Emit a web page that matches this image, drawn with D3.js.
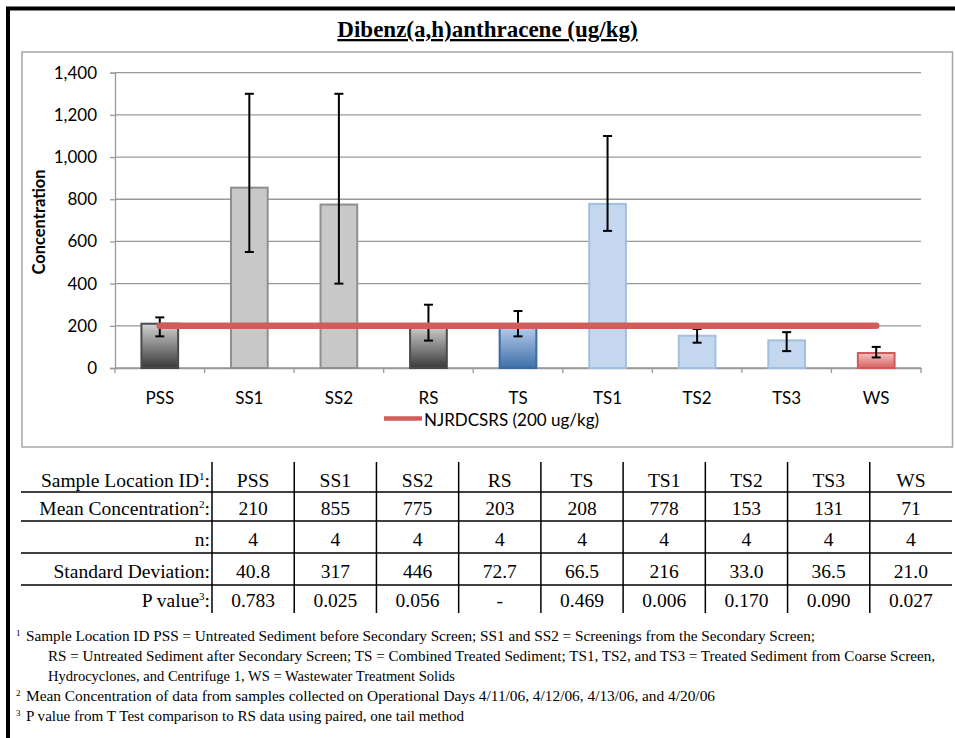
<!DOCTYPE html>
<meta charset="utf-8">
<script src="https://d3js.org/d3.v7.min.js"></script>
<style>
  body { margin: 0; background: #fff; }
  svg { display: block; }
</style>
<body>
<div id="my_dataviz"></div>
<script>
// data
var categories = ["PSS", "SS1", "SS2", "RS", "TS", "TS1", "TS2", "TS3", "WS"];
var means = [210, 855, 775, 203, 208, 778, 153, 131, 71];
var errLow = [150, 550, 400, 130, 150, 650, 120, 80, 50];
var errHigh = [240, 1300, 1300, 300, 270, 1100, 185, 170, 100];
var groups = ["untreated", "screenings", "screenings", "untreated", "combined", "treated", "treated", "treated", "wastewater"];
var nValues = ["4", "4", "4", "4", "4", "4", "4", "4", "4"];
var sdValues = ["40.8", "317", "446", "72.7", "66.5", "216", "33.0", "36.5", "21.0"];
var pValues = ["0.783", "0.025", "0.056", "-", "0.469", "0.006", "0.170", "0.090", "0.027"];
var yTicks = [0, 200, 400, 600, 800, 1000, 1200, 1400];
var limitValue = 200;
var limitLabel = "NJRDCSRS (200 ug/kg)";
var rowLabels = [["Sample Location ID", "1"], ["Mean Concentration", "2"], ["n", ""], ["Standard Deviation", ""], ["P value", "3"]];
var footnotes = [
  {sup: "1", text: "Sample Location ID PSS = Untreated Sediment before Secondary Screen; SS1 and SS2 = Screenings from the Secondary Screen;"},
  {sup: "", text: "RS = Untreated Sediment after Secondary Screen; TS = Combined Treated Sediment; TS1, TS2, and TS3 = Treated Sediment from Coarse Screen,"},
  {sup: "", text: "Hydrocyclones, and Centrifuge 1, WS = Wastewater Treatment Solids"},
  {sup: "2", text: "Mean Concentration of data from samples collected on Operational Days 4/11/06, 4/12/06, 4/13/06, and 4/20/06"},
  {sup: "3", text: "P value from T Test comparison to RS data using paired, one tail method"}
];

var W = 955, H = 738;
var sans = "Lato, 'Open Sans', sans-serif";
var serif = "'Liberation Serif', 'Times New Roman', serif";

var svg = d3.select("#my_dataviz").append("svg")
  .attr("width", W).attr("height", H);

// gradients for the shaded bars
var defs = svg.append("defs");
function grad(id, top, bottom) {
  var g = defs.append("linearGradient").attr("id", id)
    .attr("x1", 0).attr("y1", 0).attr("x2", 0).attr("y2", 1);
  g.append("stop").attr("offset", "0%").attr("stop-color", top);
  g.append("stop").attr("offset", "100%").attr("stop-color", bottom);
}
grad("gGray", "#d2d2d2", "#3a3a3a");
grad("gBlue", "#bcd2ec", "#3f70aa");
grad("gRed", "#f6c6c5", "#d4615f");

var fillOf = {untreated: "url(#gGray)", screenings: "#c8c8c8", combined: "url(#gBlue)", treated: "#c4d7ee", wastewater: "url(#gRed)"};
var strokeOf = {untreated: "#4a4a4a", screenings: "#8f8f8f", combined: "#3c6aa2", treated: "#a3bfe0", wastewater: "#cf5a58"};

// outer black frame
svg.append("path")
  .attr("d", "M8,760 V8.5 H970")
  .attr("fill", "none").attr("stroke", "#000").attr("stroke-width", 4);

// chart box
svg.append("rect")
  .attr("x", 22).attr("y", 52).attr("width", 930.5).attr("height", 395)
  .attr("fill", "#fff").attr("stroke", "#a6a6a6").attr("stroke-width", 1.5);

// title
svg.append("text")
  .attr("x", 487.5).attr("y", 37)
  .attr("text-anchor", "middle")
  .style("font-family", serif).style("font-weight", "bold").style("font-size", "23px")
  .style("text-decoration", "underline")
  .text("Dibenz(a,h)anthracene (ug/kg)");

// scales
var x = d3.scaleBand().domain(categories).range([115, 921]).paddingInner(0.59).paddingOuter(0.295);
var xc = d3.scaleBand().domain(categories).range([115, 921]);
var y = d3.scaleLinear().domain([0, 1400]).range([368, 72.7]);

// gridlines
svg.append("g").selectAll("line").data(yTicks).enter().append("line")
  .attr("x1", 115).attr("x2", 921)
  .attr("y1", d => y(d)).attr("y2", d => y(d))
  .attr("stroke", "#999").attr("stroke-width", 1.3);

// y axis
var yAxis = svg.append("g").attr("transform", "translate(115,0)")
  .call(d3.axisLeft(y).tickValues(yTicks).tickSize(5).tickPadding(13).tickFormat(d3.format(",")));
yAxis.select(".domain").attr("stroke", "#999").attr("stroke-width", 1.3);
yAxis.selectAll(".tick line").attr("stroke", "#999").attr("stroke-width", 1.3);
yAxis.selectAll("text").style("font-family", sans).style("font-size", "17px").attr("fill", "#000");

// x axis
var xAxis = svg.append("g").attr("transform", "translate(0,368)")
  .call(d3.axisBottom(xc).tickSize(0).tickPadding(24));
xAxis.select(".domain").attr("stroke", "#999").attr("stroke-width", 1.3);
xAxis.selectAll("text").style("font-family", sans).style("font-size", "17px").attr("fill", "#000");
xAxis.selectAll(".bound").data(d3.range(categories.length + 1)).enter().append("line")
  .attr("x1", i => 115 + i * xc.step()).attr("x2", i => 115 + i * xc.step())
  .attr("y1", 0).attr("y2", 5)
  .attr("stroke", "#999").attr("stroke-width", 1.3);

// y title
svg.append("text")
  .attr("transform", "translate(45,222) rotate(-90)")
  .attr("text-anchor", "middle")
  .style("font-family", sans).style("font-weight", "bold").style("font-size", "16.5px")
  .text("Concentration");

// bars
svg.append("g").selectAll("rect").data(categories).enter().append("rect")
  .attr("x", d => x(d))
  .attr("y", (d, i) => y(means[i]))
  .attr("width", x.bandwidth())
  .attr("height", (d, i) => y(0) - y(means[i]))
  .attr("fill", (d, i) => fillOf[groups[i]])
  .attr("stroke", (d, i) => strokeOf[groups[i]])
  .attr("stroke-width", 2);

// error bars
var eb = svg.append("g").attr("stroke", "#000").attr("stroke-width", 2);
categories.forEach(function(c, i) {
  var cx = xc(c) + xc.bandwidth() / 2;
  eb.append("line").attr("x1", cx).attr("x2", cx).attr("y1", y(errLow[i])).attr("y2", y(errHigh[i]));
  eb.append("line").attr("x1", cx - 4.5).attr("x2", cx + 4.5).attr("y1", y(errLow[i])).attr("y2", y(errLow[i]));
  eb.append("line").attr("x1", cx - 4.5).attr("x2", cx + 4.5).attr("y1", y(errHigh[i])).attr("y2", y(errHigh[i]));
});

// limit line
var limitLine = d3.line().x(d => xc(d) + xc.bandwidth() / 2).y(() => y(limitValue));
svg.append("path")
  .attr("d", limitLine(categories))
  .attr("fill", "none").attr("stroke", "#cf5e5b").attr("stroke-width", 6.5)
  .attr("stroke-linecap", "round");

// legend
svg.append("line").attr("x1", 384).attr("x2", 422).attr("y1", 418.5).attr("y2", 418.5)
  .attr("stroke", "#cf5e5b").attr("stroke-width", 4.5);
svg.append("text").attr("x", 424).attr("y", 426)
  .style("font-family", sans).style("font-size", "17px")
  .text(limitLabel);

// table
var tc = d3.scaleBand().domain(categories).range([212, 952]);
var rowBase = [487, 515, 546, 578, 607];
var rowLines = [492, 521, 553, 585];
var tg = svg.append("g");
tg.selectAll(".hl").data(rowLines).enter().append("line")
  .attr("x1", 21).attr("x2", 952).attr("y1", d => d).attr("y2", d => d)
  .attr("stroke", "#000").attr("stroke-width", 1.5);
tg.selectAll(".vl").data(categories).enter().append("line")
  .attr("x1", d => tc(d)).attr("x2", d => tc(d)).attr("y1", 462).attr("y2", 613)
  .attr("stroke", "#000").attr("stroke-width", 1.5);

rowLabels.forEach(function(r, i) {
  var t = tg.append("text").attr("x", 210).attr("y", rowBase[i]).attr("text-anchor", "end")
    .style("font-family", serif).style("font-size", "19.5px");
  t.append("tspan").text(r[0]);
  if (r[1]) {
    t.append("tspan").attr("dy", -7).style("font-size", "11px").text(r[1]);
    t.append("tspan").attr("dy", 7).text(":");
  } else {
    t.append("tspan").text(":");
  }
});

var tableRows = [categories, means.map(String), nValues, sdValues, pValues];
tableRows.forEach(function(vals, r) {
  tg.selectAll(".r" + r).data(vals).enter().append("text")
    .attr("x", (d, i) => tc(categories[i]) + tc.bandwidth() / 2)
    .attr("y", rowBase[r])
    .attr("text-anchor", "middle")
    .style("font-family", serif).style("font-size", "19.5px")
    .text(d => d);
});

// footnotes
var fnBase = [641, 661, 681, 701, 721];
var fnX = [26, 48, 48, 26, 26];
var fnLen = [789, 887, 407, 689, 438];
footnotes.forEach(function(f, i) {
  if (f.sup) {
    svg.append("text").attr("x", 16).attr("y", fnBase[i] - 5)
      .style("font-family", serif).style("font-size", "9px").text(f.sup);
  }
  svg.append("text").attr("x", fnX[i]).attr("y", fnBase[i])
    .attr("textLength", fnLen[i]).attr("lengthAdjust", "spacingAndGlyphs")
    .style("font-family", serif).style("font-size", "14.5px")
    .text(f.text);
});
</script>
</body>
